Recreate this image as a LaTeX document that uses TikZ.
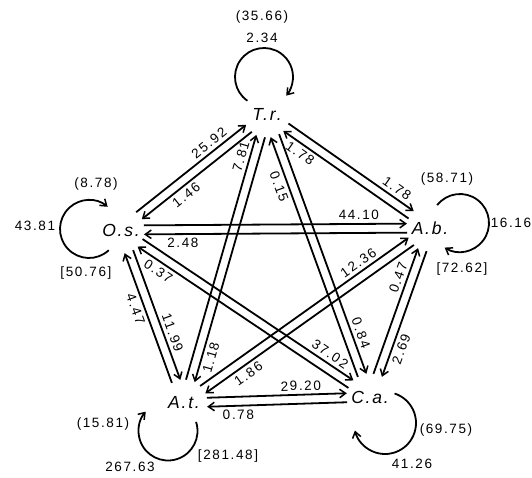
\documentclass[tikz,border=0pt]{standalone}
\usepackage{fontspec}
\setmainfont{Liberation Sans}
\newfontfamily\numfont[LetterSpace=12]{Liberation Sans}
\newfontfamily\spfont[LetterSpace=10]{Liberation Sans}
\usetikzlibrary{arrows.meta,calc}
\newcommand\gp{4.5pt}
\newcommand\dline[5]{\draw[flow] ($(#1)!\gp!90:(#2)$) -- ($(#2)!\gp!-90:(#1)$) node[lbl,pos=#4,#5]{#3};}
\newcommand\selfloop[5]{\draw[loopline] ($(#1)+(#2)+(#3:#5)$) arc[start angle=#3, end angle=#4, radius=#5];}
\begin{document}
\begin{tikzpicture}[x=1pt,y=1pt,
  sp/.style={font=\spfont\fontsize{17.5}{17.5}\selectfont\itshape, inner sep=0pt},
  lbl/.style={font=\numfont\fontsize{13.5}{13.5}\selectfont, inner sep=3.2pt, sloped},
  num/.style={font=\numfont\fontsize{13.5}{13.5}\selectfont, inner sep=0pt},
  tip/.style={-{Straight Barb[length=6pt,width=8.5pt,line width=1.5pt]}},
  flow/.style={line width=1.8pt, tip, shorten <=23pt, shorten >=23pt},
  loopline/.style={line width=1.8pt, tip}]
\useasboundingbox (0,0) rectangle (532,-478);
\node[sp] (T) at (267,-114) {T.r.};
\node[sp] (O) at (121,-230) {O.s.};
\node[sp] (B) at (430,-228) {A.b.};
\node[sp] (A) at (184,-403) {A.t.};
\node[sp] (C) at (370,-397) {C.a.};
\dline{O}{T}{25.92}{0.66}{above}
\dline{T}{O}{1.46}{0.61}{below}
\dline{T}{B}{1.78}{0.75}{above}
\dline{B}{T}{1.78}{0.75}{below}
\dline{O}{B}{44.10}{0.77}{above}
\dline{B}{O}{2.48}{0.8}{below}
\dline{A}{T}{7.81}{0.84}{above}
\dline{T}{A}{1.18}{0.83}{below}
\dline{C}{T}{0.15}{0.76}{below}
\dline{T}{C}{0.84}{0.79}{above}
\dline{A}{O}{4.47}{0.57}{below}
\dline{O}{A}{11.99}{0.62}{above}
\dline{C}{O}{0.37}{0.82}{below}
\dline{O}{C}{37.02}{0.81}{above}
\dline{A}{B}{12.36}{0.74}{above}
\dline{B}{A}{1.86}{0.77}{below}
\dline{C}{B}{0.47}{0.68}{above}
\dline{B}{C}{2.69}{0.69}{below}
\dline{A}{C}{29.20}{0.63}{above}
\dline{C}{A}{0.78}{0.71}{below}
\selfloop{T}{-3,37}{235}{-40}{29}
\selfloop{O}{-32,1}{-47}{-310}{29}
\selfloop{B}{30,5}{142}{-122}{29}
\selfloop{A}{-16,-28}{18}{-221}{29.5}
\selfloop{C}{15,-26}{72}{-166}{31}
\node[num] (t1) at (262,-17) {(35.66)};
\node[num] (t2) at (262,-38) {2.34};
\node[num] (o1) at (96,-184) {(8.78)};
\node[num] (o2) at (35,-226) {43.81};
\node[num] (o3) at (86,-273) {[50.76]};
\node[num] (b1) at (447,-179) {(58.71)};
\node[num] (b2) at (511,-223) {16.16};
\node[num] (b3) at (462,-269) {[72.62]};
\node[num] (a1) at (103,-424) {(15.81)};
\node[num] (a2) at (130,-467) {267.63};
\node[num] (a3) at (228,-456) {[281.48]};
\node[num] (c1) at (446,-430) {(69.75)};
\node[num] (c2) at (412,-464) {41.26};
\end{tikzpicture}
\end{document}
